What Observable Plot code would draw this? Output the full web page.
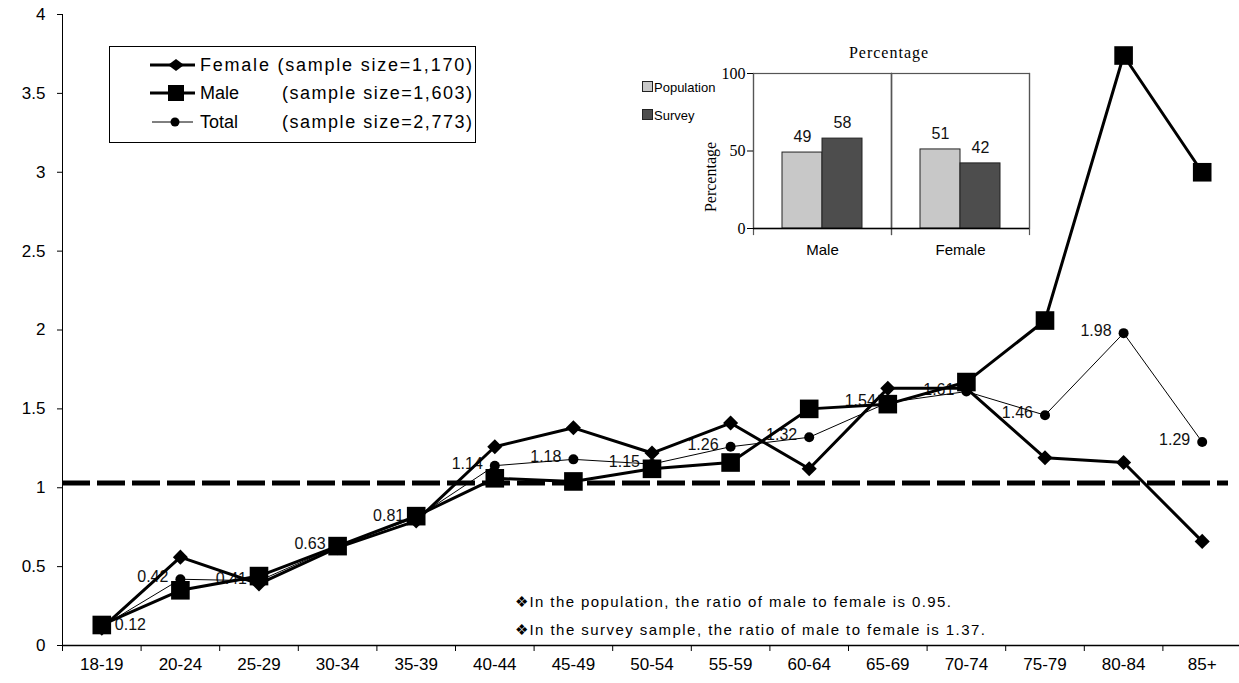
<!DOCTYPE html>
<html>
<head>
<meta charset="utf-8">
<script src="https://cdn.jsdelivr.net/npm/d3@7"></script>
<script src="https://cdn.jsdelivr.net/npm/@observablehq/plot@0.6"></script>
<style>
  body { margin: 0; background: #fff; }
  #wrap { position: relative; width: 1239px; height: 683px; overflow: hidden; font-family: "Liberation Sans", Arial, sans-serif; }
  #wrap > .layer { position: absolute; left: 0; top: 0; }
  #inset { position: absolute; left: 640px; top: 30px; }
</style>
</head>
<body>
<div id="wrap">
  <div class="layer" id="main"></div>
  <div id="inset"></div>
  <svg class="layer" id="overlay" width="1239" height="683"></svg>
</div>
<script>
// ---------- data ----------
const ageGroups = ["18-19","20-24","25-29","30-34","35-39","40-44","45-49","50-54","55-59","60-64","65-69","70-74","75-79","80-84","85+"];
const female = [0.11,0.56,0.39,0.62,0.79,1.26,1.38,1.22,1.41,1.12,1.63,1.63,1.19,1.16,0.66];
const male   = [0.13,0.35,0.44,0.63,0.82,1.06,1.04,1.12,1.16,1.50,1.53,1.67,2.06,3.74,3.00];
const total  = [0.12,0.42,0.41,0.63,0.81,1.14,1.18,1.15,1.26,1.32,1.54,1.61,1.46,1.98,1.29];
const yTicks = [0,0.5,1,1.5,2,2.5,3,3.5,4];
const referenceRatio = [1.03];

const legendNames = ["Female", "Male", "Total"];
const legendSizes = ["(sample size=1,170)", "(sample size=1,603)", "(sample size=2,773)"];
const notes = [
  "\u2756In the population, the ratio of male to female is 0.95.",
  "\u2756In the survey sample, the ratio of male to female is 1.37."
];

const insetGroups = ["Male", "Female"];
const insetSeries = ["Population", "Survey"];
const population = [49, 51];
const survey = [58, 42];
const insetTicks = [0, 50, 100];
const insetTitle = "Percentage";

// ---------- main chart ----------
const rows = ageGroups.map((g, i) => ({i, g, female: female[i], male: male[i], total: total[i]}));
const fmt = d3.format(".2f");
const sans = "Liberation Sans, Arial, sans-serif";

const main = Plot.plot({
  width: 1239,
  height: 683,
  marginLeft: 62,
  marginRight: -2,
  marginTop: 14,
  marginBottom: 38,
  style: {fontFamily: sans, fontSize: "17px", background: "transparent", overflow: "visible", color: "#000"},
  x: {domain: [-0.5, ageGroups.length - 0.5]},
  y: {domain: [0, 4]},
  marks: [
    Plot.ruleY(referenceRatio, {stroke: "#000", strokeWidth: 5, strokeDasharray: "28 7", insetRight: 13}),
    Plot.text(rows.filter(d => d.i === 0), {x: "i", y: "total", text: d => fmt(d.total), textAnchor: "start", dx: 13, dy: -2, fontSize: 16, fill: "#111"}),
    Plot.text(rows.filter(d => d.i > 0), {x: "i", y: "total", text: d => fmt(d.total), textAnchor: "end", dx: -12, dy: -2, fontSize: 16, fill: "#111"}),
    Plot.line(rows, {x: "i", y: "total", stroke: "#000", strokeWidth: 1}),
    Plot.line(rows, {x: "i", y: "female", stroke: "#000", strokeWidth: 3}),
    Plot.line(rows, {x: "i", y: "male", stroke: "#000", strokeWidth: 3}),
    Plot.dot(rows, {x: "i", y: "total", r: 5, fill: "#000", stroke: null}),
    Plot.dot(rows, {x: "i", y: "female", symbol: "diamond2", r: 6.8, fill: "#000", stroke: null}),
    Plot.dot(rows, {x: "i", y: "male", symbol: "square", r: 10.5, fill: "#000", stroke: null}),
    Plot.ruleX([-0.5], {stroke: "#000", strokeWidth: 1}),
    Plot.ruleY([0], {stroke: "#000", strokeWidth: 1.5}),
    Plot.axisY({ticks: yTicks, tickSize: 5, tickPadding: 12, tickFormat: d => String(d), label: null, fontSize: 17}),
    Plot.axisX({ticks: d3.range(ageGroups.length + 1).map(k => k - 0.5), tickSize: 6, tickFormat: () => "", label: null}),
    Plot.axisX({ticks: d3.range(ageGroups.length), tickSize: 0, tickPadding: 12, tickFormat: i => ageGroups[i], label: null, fontSize: 17})
  ]
});
document.getElementById("main").appendChild(main);

// ---------- inset chart ----------
const insetRows = [];
insetGroups.forEach((g, k) => {
  insetRows.push({group: g, series: insetSeries[0], value: population[k]});
  insetRows.push({group: g, series: insetSeries[1], value: survey[k]});
});
const inset = Plot.plot({
  width: 420,
  height: 238,
  marginLeft: 113,
  marginRight: 31,
  marginTop: 43,
  marginBottom: 40,
  style: {fontFamily: sans, fontSize: "15px", background: "transparent", overflow: "visible", color: "#000"},
  fx: {domain: insetGroups, padding: 0},
  x: {domain: insetSeries, paddingInner: 0, paddingOuter: 0.7, axis: null},
  y: {domain: [0, 100]},
  color: {domain: insetSeries, range: ["#c8c8c8", "#4d4d4d"]},
  marks: [
    Plot.frame({stroke: "#555", strokeWidth: 1.2}),
    Plot.frame({anchor: "left", stroke: "#555", strokeWidth: 1.2, insetBottom: -6}),
    Plot.frame({anchor: "right", stroke: "#555", strokeWidth: 1.2, insetBottom: -6}),
    Plot.barY(insetRows, {fx: "group", x: "series", y: "value", fill: "series", stroke: "#222", strokeWidth: 1}),
    Plot.text(insetRows, {fx: "group", x: "series", y: "value", text: d => String(d.value), dy: -16, fontSize: 16, fill: "#111"}),
    Plot.ruleY([0], {stroke: "#000", strokeWidth: 1.5}),
    Plot.axisY({ticks: insetTicks, tickSize: 6, tickPadding: 2, label: null, fontFamily: "Liberation Serif, Times New Roman, serif", fontSize: 16}),
    Plot.axisFx({anchor: "bottom", tickSize: 0, tickPadding: 16, label: null, fontSize: 15, style: {letterSpacing: "1px"}})
  ]
});
document.getElementById("inset").appendChild(inset);

// ---------- overlay: legend, notes, inset title/legend ----------
const ov = d3.select("#overlay");
ov.style("font-family", sans);

// main legend box
ov.append("rect").attr("x", 109.5).attr("y", 46.5).attr("width", 366).attr("height", 96)
  .attr("fill", "#fff").attr("stroke", "#000").attr("stroke-width", 1);
const rowY = [65, 93, 122];
// Female sample
ov.append("line").attr("x1", 150).attr("x2", 195).attr("y1", rowY[0]).attr("y2", rowY[0]).attr("stroke", "#000").attr("stroke-width", 3);
ov.append("path").attr("d", `M${176 - 8},${rowY[0]}L176,${rowY[0] - 6}L${176 + 8},${rowY[0]}L176,${rowY[0] + 6}Z`).attr("fill", "#000");
// Male sample
ov.append("line").attr("x1", 150).attr("x2", 195).attr("y1", rowY[1]).attr("y2", rowY[1]).attr("stroke", "#000").attr("stroke-width", 3);
ov.append("rect").attr("x", 168).attr("y", rowY[1] - 8).attr("width", 16).attr("height", 16).attr("fill", "#000");
// Total sample
ov.append("line").attr("x1", 152).attr("x2", 193).attr("y1", rowY[2]).attr("y2", rowY[2]).attr("stroke", "#000").attr("stroke-width", 1);
ov.append("circle").attr("cx", 175).attr("cy", rowY[2]).attr("r", 4.5).attr("fill", "#000");

ov.append("text").attr("x", 200).attr("y", rowY[0]).attr("dy", "0.35em").attr("font-size", 18)
  .attr("textLength", 272).attr("lengthAdjust", "spacing").text(legendNames[0] + " " + legendSizes[0]);
[1, 2].forEach(k => {
  ov.append("text").attr("x", 200).attr("y", rowY[k]).attr("dy", "0.35em").attr("font-size", 18).text(legendNames[k]);
  ov.append("text").attr("x", 282).attr("y", rowY[k]).attr("dy", "0.35em").attr("font-size", 18)
    .attr("textLength", 190).attr("lengthAdjust", "spacing").text(legendSizes[k]);
});

// notes
const noteY = [602, 630];
const noteLen = [436, 470];
notes.forEach((t, k) => {
  ov.append("text").attr("x", 515).attr("y", noteY[k]).attr("dy", "0.35em").attr("font-size", 15)
    .attr("textLength", noteLen[k]).attr("lengthAdjust", "spacing").text(t);
});

// inset title and y label
const serif = "Liberation Serif, Times New Roman, serif";
ov.append("text").attr("x", 889).attr("y", 52).attr("dy", "0.35em").attr("text-anchor", "middle")
  .attr("font-family", serif).attr("font-size", 16).style("letter-spacing", "1px").text(insetTitle);
ov.append("text").attr("transform", "translate(710,177) rotate(-90)").attr("dy", "0.35em").attr("text-anchor", "middle")
  .attr("font-family", serif).attr("font-size", 16).text(insetTitle);

// inset legend
const insetLegendY = [87, 115];
const insetColors = ["#c8c8c8", "#4d4d4d"];
insetSeries.forEach((s, k) => {
  ov.append("rect").attr("x", 642.5).attr("y", insetLegendY[k] - 5.5).attr("width", 10).attr("height", 10)
    .attr("fill", insetColors[k]).attr("stroke", "#222").attr("stroke-width", 1);
  ov.append("text").attr("x", 654).attr("y", insetLegendY[k]).attr("dy", "0.35em").attr("font-size", 13).text(s);
});
</script>
</body>
</html>
